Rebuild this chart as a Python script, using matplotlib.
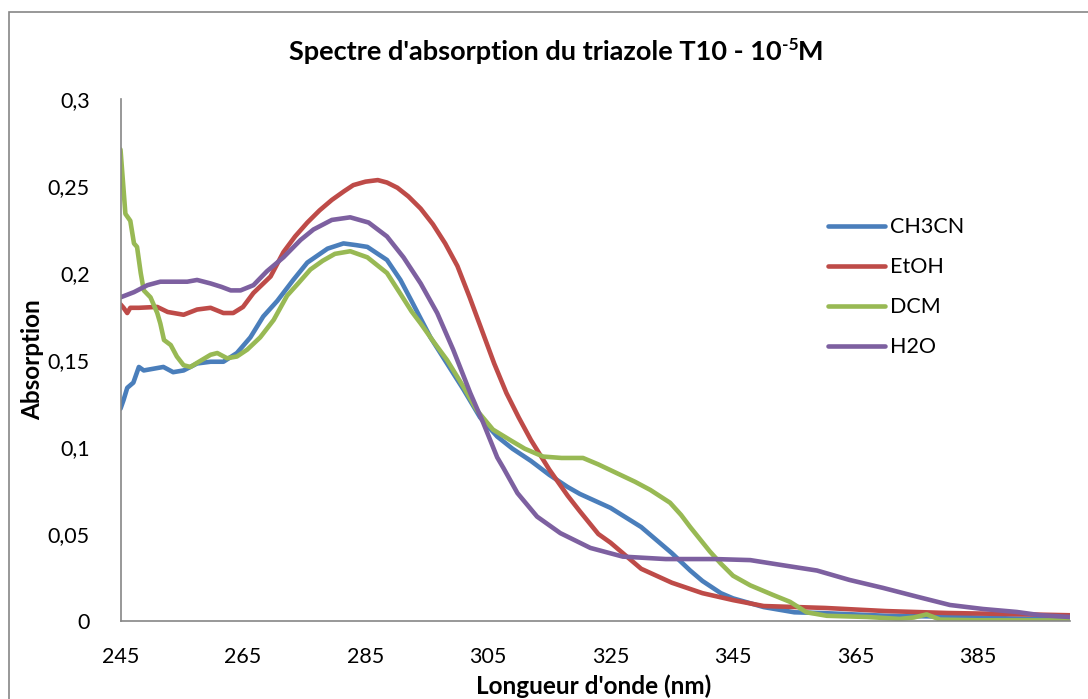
import matplotlib
matplotlib.use("Agg")
import matplotlib.pyplot as plt
from matplotlib.patches import Rectangle

plt.rcParams['font.family'] = ['Lato', 'DejaVu Sans']

# values (nm, absorbance)
wl_ch3cn = [245, 245.5, 246.1, 247.1, 248, 248.8, 250.4, 252, 253.6, 255.3, 257.5, 259.7,
            261.8, 264, 266.2, 268.3, 270.6, 273.2, 275.5, 278.8, 281.4, 283.5, 285.3, 287,
            288.5, 290.7, 292.5, 295.6, 298.3, 301, 303.7, 306.5, 309, 312, 315, 318, 320,
            325, 330, 335, 338, 340, 343, 345, 350, 355, 360, 370, 380, 390, 400]
abs_ch3cn = [0.122, 0.127, 0.134, 0.137, 0.146, 0.144, 0.145, 0.146, 0.143, 0.144, 0.148, 0.149,
             0.149, 0.154, 0.163, 0.175, 0.184, 0.196, 0.206, 0.214, 0.217, 0.216, 0.215, 0.211,
             0.2075, 0.196, 0.184, 0.163, 0.148, 0.133, 0.117, 0.106, 0.099, 0.092, 0.084, 0.077, 0.073,
             0.065, 0.054, 0.039, 0.029, 0.023, 0.016, 0.013, 0.008, 0.005, 0.0045, 0.003, 0.0025, 0.0015, 0.001]

wl_etoh = [245, 245.5, 246.1, 246.6, 248, 251, 252.7, 255.3, 257.5, 259.7, 261.8, 263.4,
           265, 266.7, 269.5, 271.6, 273.5, 275.5, 277.5, 279.5, 281.5, 283, 285, 287,
           288.5, 290.2, 292, 294, 296, 298, 300, 302, 304, 306, 308, 310, 312, 315,
           318, 320, 323, 325, 328, 330, 335, 340, 345, 350, 360, 370, 380, 390, 400]
abs_etoh = [0.182, 0.180, 0.177, 0.180, 0.180, 0.1805, 0.1776, 0.176, 0.179, 0.180, 0.177, 0.177,
            0.1805, 0.1885, 0.198, 0.212, 0.221, 0.229, 0.236, 0.242, 0.247, 0.2505, 0.2525, 0.2534,
            0.252, 0.249, 0.244, 0.237, 0.228, 0.217, 0.204, 0.186, 0.167, 0.148, 0.131, 0.117, 0.104, 0.087,
            0.072, 0.063, 0.050, 0.045, 0.036, 0.030, 0.022, 0.016, 0.012, 0.0086, 0.0075, 0.0057, 0.0046, 0.004, 0.0033]

wl_dcm = [245, 245.8, 246.6, 247.2, 247.7, 248.3, 248.8, 249.9, 251, 251.5, 252.1, 253.2,
          254.2, 255.3, 256.4, 257.8, 259.7, 260.8, 262.4, 264, 265.7, 267.8, 270, 272.2,
          274, 276, 278, 280, 282.5, 285.3, 288.5, 290.7, 292.5, 294, 296, 298.3, 301,
          303.2, 305.8, 308.6, 311, 314, 317, 320.5, 323, 326, 329, 331.5, 334.7, 336.5,
          338, 339.6, 341.2, 343, 345, 347.8, 351.5, 354.3, 357, 360.3, 366.9, 372.2,
          374.5, 376.6, 378.8, 385, 400]
abs_dcm = [0.271, 0.234, 0.230, 0.217, 0.215, 0.200, 0.190, 0.186, 0.177, 0.171, 0.1615, 0.1586,
           0.152, 0.147, 0.146, 0.149, 0.153, 0.154, 0.151, 0.152, 0.156, 0.163, 0.173, 0.187,
           0.194, 0.202, 0.207, 0.211, 0.2125, 0.209, 0.200, 0.188, 0.178, 0.171, 0.161, 0.150, 0.1345,
           0.121, 0.110, 0.104, 0.099, 0.0945, 0.0937, 0.0937, 0.090, 0.085, 0.080, 0.0753, 0.068, 0.061,
           0.054, 0.047, 0.040, 0.033, 0.026, 0.0205, 0.015, 0.011, 0.005, 0.003, 0.0023, 0.0012,
           0.002, 0.0038, 0.0008, 0.0004, 0.0003]

wl_h2o = [245, 247.2, 249.4, 251.5, 253.2, 255.9, 257.5, 259.7, 261.5, 263, 264.6, 266.7,
          268.9, 271.6, 274.4, 276.5, 279.5, 282.5, 285.5, 288.5, 291.2, 294, 296.7, 299.3,
          302.1, 304.2, 306.5, 307.5, 309.8, 313, 316.8, 321.7, 327, 334, 342, 347.8, 353.2,
          358.7, 364, 369.5, 375, 380.4, 385.8, 391.3, 395, 400]
abs_h2o = [0.186, 0.189, 0.193, 0.195, 0.195, 0.195, 0.196, 0.194, 0.192, 0.190, 0.190, 0.193,
           0.201, 0.209, 0.219, 0.225, 0.2305, 0.232, 0.229, 0.221, 0.209, 0.194, 0.177, 0.156,
           0.131, 0.114, 0.094, 0.088, 0.0735, 0.060, 0.0505, 0.042, 0.037, 0.0356, 0.0356, 0.035, 0.032,
           0.029, 0.0236, 0.019, 0.014, 0.0092, 0.0069, 0.0052, 0.0034, 0.0023]

series_names = ['CH3CN', 'EtOH', 'DCM', 'H2O']
series_colors = ['#4A7EBB', '#BE4B48', '#98B954', '#7D60A0']

xticks = [245, 265, 285, 305, 325, 345, 365, 385]
yticks = [0, 0.05, 0.1, 0.15, 0.2, 0.25, 0.3]
ytick_labels = ['0', '0,05', '0,1', '0,15', '0,2', '0,25', '0,3']

fig = plt.figure(figsize=(10.88, 6.99), dpi=100)
ax = fig.add_axes([120.5 / 1088, 1 - 621 / 699, (1070 - 120.5) / 1088, (621 - 99) / 699])

data = [(wl_ch3cn, abs_ch3cn), (wl_etoh, abs_etoh), (wl_dcm, abs_dcm), (wl_h2o, abs_h2o)]
for (x, y), name, col in zip(data, series_names, series_colors):
    ax.plot(x, y, color=col, lw=3.3, label=name, solid_capstyle='round', solid_joinstyle='round')

ax.set_xlim(245, 400)
ax.set_ylim(0, 0.3)
ax.set_xticks(xticks)
ax.set_yticks(yticks)
ax.set_yticklabels(ytick_labels)
ax.tick_params(length=0, labelsize=15.5)
ax.tick_params(axis='x', pad=19)
ax.tick_params(axis='y', pad=22)
for s in ['top', 'right']:
    ax.spines[s].set_visible(False)
for s in ['left', 'bottom']:
    ax.spines[s].set_color('#868686')
    ax.spines[s].set_linewidth(1.2)

# title in three pieces so the superscript keeps a plain hyphen
t1 = fig.text(289 / 1088, 1 - 52 / 699, "Spectre d'absorption du triazole T10 - 10",
              ha='left', va='center', fontsize=19.5, fontweight='bold')
t2 = ax.annotate("-5", xy=(1, 0.45), xycoords=t1, ha='left', va='bottom',
                 fontsize=12.5, fontweight='bold', annotation_clip=False)
ax.annotate("M", xy=(1, 0), xycoords=(t2, t1), ha='left', va='bottom',
            fontsize=19.5, fontweight='bold', annotation_clip=False)

fig.text(594 / 1088, 1 - 686 / 699, "Longueur d'onde (nm)", ha='center', va='center',
         fontsize=17.5, fontweight='bold')
fig.text(33 / 1088, 1 - 360 / 699, "Absorption", ha='center', va='center', rotation=90,
         fontsize=17.5, fontweight='bold')

fig.legend(loc='upper left', bbox_to_anchor=(809 / 1088, 1 - 198 / 699), frameon=False,
           fontsize=15.5, handlelength=2.65, handletextpad=0.2, labelspacing=0.93)

# chart area border (Excel style), cropped at right and bottom
fig.patches.append(Rectangle((9 / 1088, -0.05), 1.2, 1 - 12 / 699 + 0.05, transform=fig.transFigure,
                             fill=False, edgecolor='#868686', lw=1.2))

fig.savefig('out.png', dpi=100)
